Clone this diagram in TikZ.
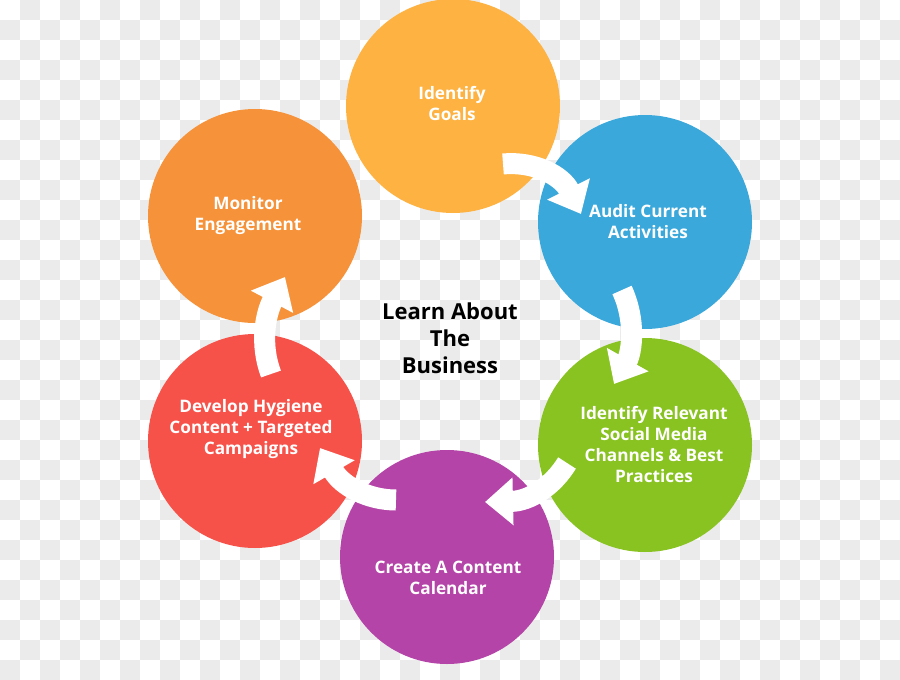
\documentclass[tikz,border=0pt]{standalone}
\usepackage{fontspec}
\setmainfont{Open Sans}
\usetikzlibrary{arrows.meta}

\definecolor{goalsC}{HTML}{FDB241}
\definecolor{auditC}{HTML}{3AA8DB}
\definecolor{channelC}{HTML}{89C322}
\definecolor{calendarC}{HTML}{B444A7}
\definecolor{hygieneC}{HTML}{F7524A}
\definecolor{monitorC}{HTML}{F6923A}
\definecolor{checkC}{HTML}{EBEBEB}

\begin{document}
\begin{tikzpicture}[x=1pt, y=-1pt,
        stage/.style={circle, minimum size=214pt, inner sep=0pt},
        stagetext/.style={text=white, align=center, font=\fontsize{17.2}{21}\selectfont\bfseries},
        flow/.style={white, line width=21pt, -{Triangle[length=28pt, width=46pt]}},
    ]
        \useasboundingbox (0,0) rectangle (900,680);

        % Checkered background
        \fill[white] (0,0) rectangle (900,680);
        \foreach \i in {0,...,44} {
            \foreach \j in {0,...,33} {
                \pgfmathtruncatemacro\odd{mod(\i+\j,2)}
                \ifnum\odd=1
                    \fill[checkC] (\i*20,\j*20) rectangle ++(20,20);
                \fi
            }
        }

        % Circles
        \foreach \name/\x/\y/\col in {
            goals/453/106/goalsC,
            audit/645/222/auditC,
            channels/645/445/channelC,
            calendar/447/557/calendarC,
            hygiene/255/441/hygieneC,
            monitor/255/216/monitorC} {
            \node[stage, fill=\col] (\name) at (\x,\y) {};
        }

        % Arrow ends
        \coordinate (a1s) at (503,164);  \coordinate (a1e) at (581,214);
        \coordinate (a2s) at (622,290);  \coordinate (a2e) at (614,384);
        \coordinate (a3s) at (567,463);  \coordinate (a3e) at (485,502);
        \coordinate (a4s) at (396,500);  \coordinate (a4e) at (320,448);
        \coordinate (a5s) at (271,374);  \coordinate (a5e) at (285,277);

        % Arrows
        \draw[flow] (a1s) .. controls (535,161) and (562,176) .. (a1e);
        \draw[flow] (a2s) .. controls (636,320) and (632,352) .. (a2e);
        \draw[flow] (a3s) .. controls (553,486) and (530,501) .. (a3e);
        \draw[flow] (a4s) .. controls (368,500) and (342,486) .. (a4e);
        \draw[flow] (a5s) .. controls (260,345) and (265,315) .. (a5e);

        % Labels
        \node[stagetext] (goalstext) at (452,104) {Identify\\Goals};
        \node[stagetext] (audittext) at (648,222) {Audit Current\\Activities};
        \node[stagetext] (channelstext) at (654,444) {Identify Relevant\\Social Media\\Channels \& Best\\Practices};
        \node[stagetext] (calendartext) at (448,578) {Create A Content\\Calendar};
        \node[stagetext] (hygienetext) at (251,429) {Develop Hygiene\\Content + Targeted\\Campaigns};
        \node[stagetext] (monitortext) at (248,216) {Monitor\\Engagement};

        \node[align=center, font=\fontsize{22}{27}\selectfont\bfseries] (hub) at (450,338) {Learn About\\The\\Business};
    \end{tikzpicture}
\end{document}
